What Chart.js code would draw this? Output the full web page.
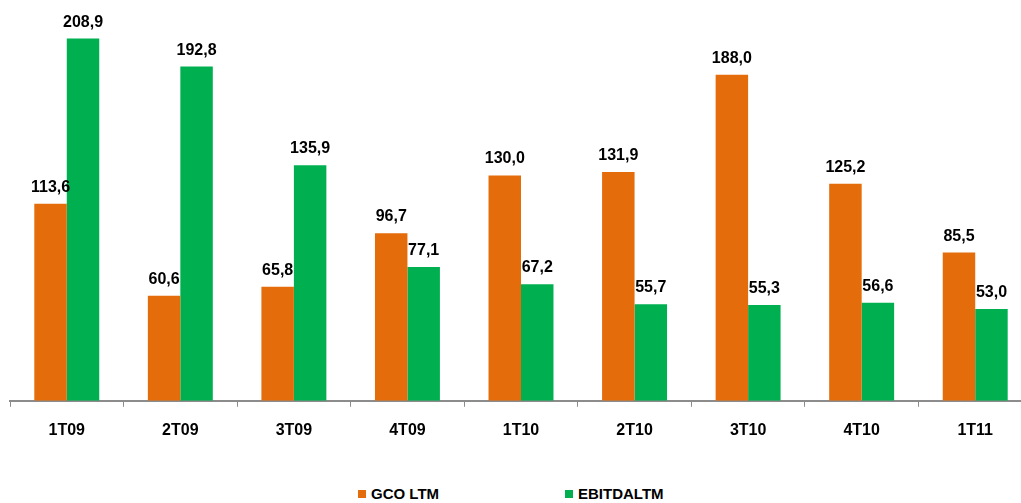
<!DOCTYPE html>
<html>
<head>
<meta charset="utf-8">
<script src="https://cdn.jsdelivr.net/npm/chart.js@4"></script>
<style>
  html, body { margin: 0; padding: 0; background: #fff; overflow: hidden; }
  body { width: 1021px; height: 503px; position: relative; font-family: "Liberation Sans", Arial, sans-serif; }
  #wrap { position: absolute; left: 0; top: 0; width: 1032px; height: 454px; }
  .leg { position: absolute; top: 485px; font-weight: bold; font-size: 15px; color: #000; white-space: nowrap; }
  .leg span { display: inline-block; width: 8px; height: 8px; margin-right: 5px; vertical-align: 1px; }
</style>
</head>
<body>
<div id="wrap"><canvas id="chart"></canvas></div>
<div class="leg" style="left:358px"><span style="background:#E46C0A"></span>GCO LTM</div>
<div class="leg" style="left:565px"><span style="background:#00B050"></span>EBITDALTM</div>
<script>
// dados do gráfico
const categories = ['1T09', '2T09', '3T09', '4T09', '1T10', '2T10', '3T10', '4T10', '1T11'];
const gcoLtm = [113.6, 60.6, 65.8, 96.7, 130.0, 131.9, 188.0, 125.2, 85.5];
const ebitdaLtm = [208.9, 192.8, 135.9, 77.1, 67.2, 55.7, 55.3, 56.6, 53.0];

// rótulos de valor acima das barras (vírgula decimal)
const valueLabels = {
    id: 'valueLabels',
    afterDatasetsDraw(chart) {
        const ctx = chart.ctx;
        ctx.save();
        ctx.font = 'bold 16px "Liberation Sans", Arial, sans-serif';
        ctx.fillStyle = '#000';
        ctx.textAlign = 'center';
        ctx.textBaseline = 'alphabetic';
        chart.data.datasets.forEach((ds, i) => {
            chart.getDatasetMeta(i).data.forEach((bar, j) => {
                const txt = ds.data[j].toFixed(1).replace('.', ',');
                ctx.fillText(txt, bar.x, bar.y - 12);
            });
        });
        ctx.restore();
    }
};

new Chart(document.getElementById('chart').getContext('2d'), {
    type: 'bar',
    data: {
        labels: categories,
        datasets: [
            { label: 'GCO LTM', data: gcoLtm, backgroundColor: '#E46C0A' },
            { label: 'EBITDALTM', data: ebitdaLtm, backgroundColor: '#00B050' }
        ]
    },
    options: {
        responsive: true,
        maintainAspectRatio: false,
        animation: false,
        layout: { padding: { left: 10, top: 2, right: 0, bottom: 0 } },
        categoryPercentage: 0.572,
        barPercentage: 1.0,
        plugins: {
            legend: { display: false },
            tooltip: { enabled: false }
        },
        scales: {
            x: {
                offset: true,
                grid: {
                    offset: true,
                    drawOnChartArea: false,
                    drawTicks: true,
                    tickLength: 6,
                    color: '#8c8c8c'
                },
                border: { color: '#8c8c8c', width: 2 },
                ticks: {
                    padding: 14,
                    color: '#000',
                    font: { family: '"Liberation Sans", Arial, sans-serif', size: 16, weight: 'bold' }
                }
            },
            y: {
                display: false,
                min: 0,
                max: 230
            }
        }
    },
    plugins: [valueLabels]
});
</script>
</body>
</html>
